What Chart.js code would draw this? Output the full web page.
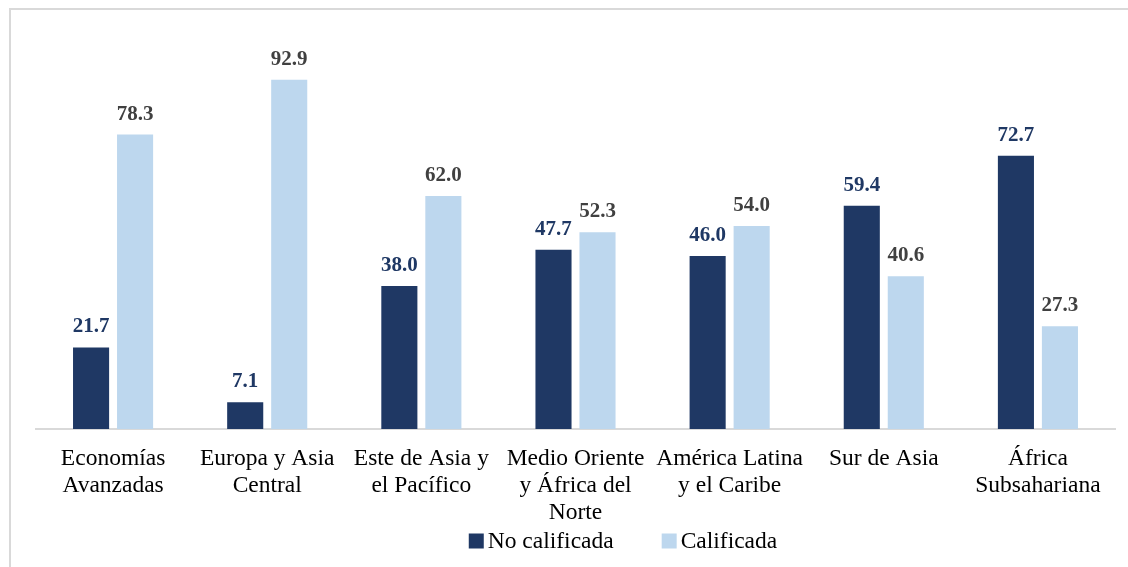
<!DOCTYPE html>
<html lang="es">
<head>
<meta charset="utf-8">
<title>Empleo por nivel de calificación</title>
<script src="https://cdn.jsdelivr.net/npm/chart.js@4.4.1/dist/chart.umd.min.js"></script>
<style>
  html, body { margin: 0; padding: 0; background: #fff; overflow: hidden; }
  #marco { position: absolute; left: 9px; top: 8px; width: 1200px; height: 600px; border: 2px solid #d9d9d9; }
  #contenedor { position: absolute; left: 0; top: 0; width: 1128px; height: 567px; }
</style>
</head>
<body>
<div id="marco"></div>
<div id="contenedor"><canvas id="grafico"></canvas></div>
<script>
var regiones = [
	['Economías', 'Avanzadas'],
	['Europa y Asia', 'Central'],
	['Este de Asia y', 'el Pacífico'],
	['Medio Oriente', 'y África del', 'Norte'],
	['América Latina', 'y el Caribe'],
	['Sur de Asia'],
	['África', 'Subsahariana']
];
var noCalificada = [21.7, 7.1, 38.0, 47.7, 46.0, 59.4, 72.7];
var calificada = [78.3, 92.9, 62.0, 52.3, 54.0, 40.6, 27.3];
var nombresSeries = ['No calificada', 'Calificada'];
var coloresSeries = ['#1f3864', '#bdd7ee'];
var coloresEtiquetas = ['#1f3864', '#404040'];

var FUENTE = '"Liberation Serif", "Times New Roman", serif';

// numbers above each bar
var etiquetasValor = {
	id: 'etiquetasValor',
	afterDatasetsDraw: function (chart) {
		var ctx = chart.ctx;
		ctx.save();
		ctx.font = 'bold 21px ' + FUENTE;
		ctx.textAlign = 'center';
		ctx.textBaseline = 'alphabetic';
		chart.data.datasets.forEach(function (ds, i) {
			ctx.fillStyle = coloresEtiquetas[i];
			chart.getDatasetMeta(i).data.forEach(function (bar, j) {
				ctx.fillText(ds.data[j].toFixed(1), bar.x, bar.y - 15);
			});
		});
		ctx.restore();
	}
};

// legend under the axis labels, square swatch tight against the text
var leyenda = {
	id: 'leyenda',
	afterDraw: function (chart) {
		var ctx = chart.ctx;
		var caja = 15, hueco = 4, separacion = 48;
		var centro = 623, y = 541;
		ctx.save();
		ctx.font = '23.5px ' + FUENTE;
		ctx.textBaseline = 'middle';
		var anchos = chart.data.datasets.map(function (ds) {
			return caja + hueco + ctx.measureText(ds.label).width;
		});
		var total = anchos.reduce(function (a, b) { return a + b; }, 0) + separacion * (anchos.length - 1);
		var x = centro - total / 2;
		chart.data.datasets.forEach(function (ds, i) {
			ctx.fillStyle = ds.backgroundColor;
			ctx.fillRect(x, y - caja / 2, caja, caja);
			ctx.fillStyle = '#000';
			ctx.fillText(ds.label, x + caja + hueco, y + 1);
			x += anchos[i] + separacion;
		});
		ctx.restore();
	}
};

Chart.defaults.font.family = FUENTE;

new Chart(document.getElementById('grafico'), {
	type: 'bar',
	data: {
		labels: regiones,
		datasets: [
			{
				label: nombresSeries[0],
				data: noCalificada,
				backgroundColor: coloresSeries[0],
				categoryPercentage: 0.571,
				barPercentage: 0.82
			},
			{
				label: nombresSeries[1],
				data: calificada,
				backgroundColor: coloresSeries[1],
				categoryPercentage: 0.571,
				barPercentage: 0.82
			}
		]
	},
	options: {
		responsive: true,
		maintainAspectRatio: false,
		animation: false,
		devicePixelRatio: 1,
		layout: { padding: { left: 36, right: 13, top: 53, bottom: 25 } },
		plugins: {
			legend: { display: false },
			tooltip: { enabled: false }
		},
		scales: {
			x: {
				grid: { display: false, drawTicks: false },
				border: { display: true, color: '#d9d9d9', width: 2 },
				ticks: {
					color: '#000',
					padding: 16,
					maxRotation: 0,
					font: { size: 23.5, lineHeight: '27px' }
				}
			},
			y: {
				display: false,
				min: 0,
				max: 100
			}
		}
	},
	plugins: [etiquetasValor, leyenda]
});
</script>
</body>
</html>
